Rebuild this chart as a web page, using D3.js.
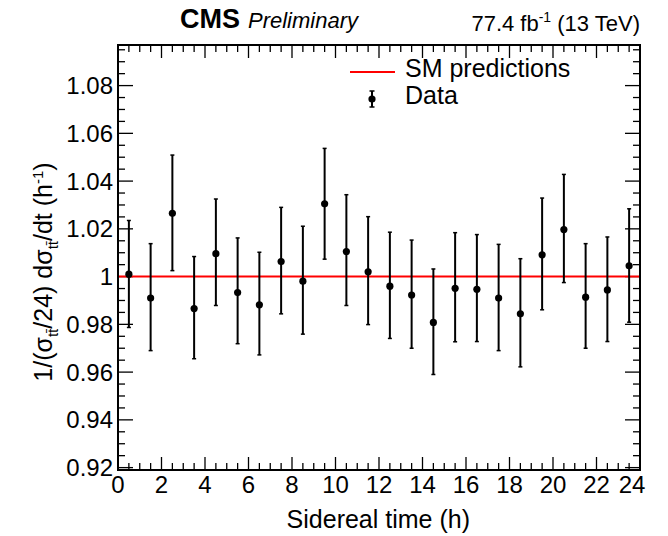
<!DOCTYPE html>
<html>
<head>
<meta charset="utf-8">
<script src="https://cdn.jsdelivr.net/npm/d3@7"></script>
<style>
  body { margin: 0; background: #fff; }
  text { font-family: "Liberation Sans", Arial, Helvetica, sans-serif; }
</style>
</head>
<body>
<svg id="chart" width="668" height="536"></svg>
<script>
// data
var binCenters = [0.5,1.5,2.5,3.5,4.5,5.5,6.5,7.5,8.5,9.5,10.5,11.5,12.5,13.5,14.5,15.5,16.5,17.5,18.5,19.5,20.5,21.5,22.5,23.5]
var values  = [1.001,0.991,1.0265,0.9866,1.0096,0.9933,0.9882,1.0063,0.9981,1.0305,1.0105,1.002,0.996,0.9923,0.9808,0.9951,0.9947,0.991,0.9844,1.0091,1.0197,0.9914,0.9944,1.0045]
var errUp   = [0.0225,0.0228,0.0244,0.0218,0.0229,0.0229,0.022,0.0227,0.023,0.0232,0.0238,0.0231,0.0226,0.023,0.0224,0.0233,0.0229,0.0225,0.0231,0.0238,0.0231,0.0224,0.0222,0.0239]
var errDown = [0.0223,0.022,0.024,0.021,0.0217,0.0214,0.021,0.0219,0.0222,0.0232,0.0226,0.0221,0.0219,0.0223,0.0218,0.0224,0.0219,0.022,0.0222,0.023,0.0222,0.0214,0.0216,0.0236]
var smPrediction = 1.0
var xTicks = [0,2,4,6,8,10,12,14,16,18,20,22,24]
var yTicks = [0.92,0.94,0.96,0.98,1,1.02,1.04,1.06,1.08]

var dimensions = {
    width: 668,
    height: 536,
    margin: { top: 45, right: 28, bottom: 66, left: 118 }
}
var x0 = dimensions.margin.left
var x1 = dimensions.width - dimensions.margin.right
var y0 = dimensions.margin.top
var y1 = dimensions.height - dimensions.margin.bottom

var svg = d3.select("#chart")

var xScale = d3.scaleLinear()
               .domain([0, 24])
               .range([x0, x1])
var yScale = d3.scaleLinear()
               .domain([0.919, 1.097])
               .range([y1, y0])

// minor ticks
var xMinor = d3.range(0, 24.01, 0.5)
var yMinor = d3.range(0.92, 1.0971, 0.005)

var ticks = svg.append("g").attr("stroke", "black").attr("stroke-width", 1.3)
ticks.selectAll(".xb").data(xMinor).enter().append("line")
     .attr("x1", d => xScale(d)).attr("x2", d => xScale(d))
     .attr("y1", y1).attr("y2", (d, i) => y1 - (i % 4 == 0 ? 13 : 7))
ticks.selectAll(".xt").data(xMinor).enter().append("line")
     .attr("x1", d => xScale(d)).attr("x2", d => xScale(d))
     .attr("y1", y0).attr("y2", (d, i) => y0 + (i % 4 == 0 ? 13 : 7))
ticks.selectAll(".yl").data(yMinor).enter().append("line")
     .attr("y1", d => yScale(d)).attr("y2", d => yScale(d))
     .attr("x1", x0).attr("x2", (d, i) => x0 + (i % 4 == 0 ? 15 : 7))
ticks.selectAll(".yr").data(yMinor).enter().append("line")
     .attr("y1", d => yScale(d)).attr("y2", d => yScale(d))
     .attr("x1", x1).attr("x2", (d, i) => x1 - (i % 4 == 0 ? 15 : 7))

// tick labels
svg.append("g").selectAll("text").data(xTicks).enter().append("text")
   .attr("x", d => d == 24 ? xScale(d) - 8 : xScale(d))
   .attr("y", y1 + 23)
   .attr("text-anchor", "middle")
   .style("font-size", "24px")
   .text(d => d)
svg.append("g").selectAll("text").data(yTicks).enter().append("text")
   .attr("x", x0 - 5)
   .attr("y", d => yScale(d) + 8.5)
   .attr("text-anchor", "end")
   .style("font-size", "24px")
   .text(d => d3.format(".2f")(d).replace("1.00", "1"))

// SM prediction line
svg.append("line")
   .attr("x1", xScale(0)).attr("x2", xScale(24))
   .attr("y1", yScale(smPrediction)).attr("y2", yScale(smPrediction))
   .style("stroke", "#ff0000").style("stroke-width", 2)

// data points with error bars
var pts = svg.append("g").selectAll("g").data(values).enter().append("g")
pts.append("line")
   .attr("x1", (d, i) => xScale(binCenters[i])).attr("x2", (d, i) => xScale(binCenters[i]))
   .attr("y1", (d, i) => yScale(d + errUp[i])).attr("y2", (d, i) => yScale(d - errDown[i]))
   .style("stroke", "black").style("stroke-width", 2)
pts.append("line")
   .attr("x1", (d, i) => xScale(binCenters[i]) - 2).attr("x2", (d, i) => xScale(binCenters[i]) + 2)
   .attr("y1", (d, i) => yScale(d + errUp[i])).attr("y2", (d, i) => yScale(d + errUp[i]))
   .style("stroke", "black").style("stroke-width", 1.5)
pts.append("line")
   .attr("x1", (d, i) => xScale(binCenters[i]) - 2).attr("x2", (d, i) => xScale(binCenters[i]) + 2)
   .attr("y1", (d, i) => yScale(d - errDown[i])).attr("y2", (d, i) => yScale(d - errDown[i]))
   .style("stroke", "black").style("stroke-width", 1.5)
pts.append("circle")
   .attr("cx", (d, i) => xScale(binCenters[i]))
   .attr("cy", d => yScale(d))
   .attr("r", 3.6)
   .style("fill", "black")

// frame
svg.append("rect")
   .attr("x", x0).attr("y", y0)
   .attr("width", x1 - x0).attr("height", y1 - y0)
   .style("fill", "none").style("stroke", "black").style("stroke-width", 2)

// legend
svg.append("line")
   .attr("x1", 350).attr("x2", 395).attr("y1", 72).attr("y2", 72)
   .style("stroke", "#ff0000").style("stroke-width", 2)
svg.append("text").attr("x", 405).attr("y", 77).style("font-size", "25px").text("SM predictions")
svg.append("line").attr("x1", 372).attr("x2", 372).attr("y1", 91).attr("y2", 107)
   .style("stroke", "black").style("stroke-width", 2)
svg.append("line").attr("x1", 369.5).attr("x2", 374.5).attr("y1", 91).attr("y2", 91)
   .style("stroke", "black").style("stroke-width", 1.5)
svg.append("line").attr("x1", 369.5).attr("x2", 374.5).attr("y1", 107).attr("y2", 107)
   .style("stroke", "black").style("stroke-width", 1.5)
svg.append("circle").attr("cx", 372).attr("cy", 99).attr("r", 3.6).style("fill", "black")
svg.append("text").attr("x", 405).attr("y", 104).style("font-size", "25px").text("Data")

// header
var head = svg.append("text").attr("x", 180).attr("y", 28)
head.append("tspan").style("font-size", "27px").style("font-weight", "bold").text("CMS")
head.append("tspan").attr("dx", 8).style("font-size", "22px").style("font-style", "italic").text("Preliminary")

var lumi = svg.append("text").attr("x", x1).attr("y", 31).attr("text-anchor", "end").style("font-size", "22px")
lumi.append("tspan").text("77.4 fb")
lumi.append("tspan").attr("dy", -9).style("font-size", "14px").text("-1")
lumi.append("tspan").attr("dy", 9).text(" (13 TeV)")

// axis titles
svg.append("text")
   .attr("x", 470).attr("y", 528)
   .attr("text-anchor", "end")
   .style("font-size", "25px")
   .text("Sidereal time (h)")

var yt = svg.append("text")
   .attr("transform", "translate(52," + 272 + ") rotate(-90)")
   .attr("text-anchor", "middle")
   .style("font-size", "25px")
yt.append("tspan").text("1/(σ")
yt.append("tspan").attr("dy", 6).style("font-size", "15px").text("tt\u0304")
yt.append("tspan").attr("dy", -6).text("/24) dσ")
yt.append("tspan").attr("dy", 6).style("font-size", "15px").text("tt\u0304")
yt.append("tspan").attr("dy", -6).text("/dt (h")
yt.append("tspan").attr("dy", -9).style("font-size", "15px").text("-1")
yt.append("tspan").attr("dy", 9).text(")")
</script>
</body>
</html>
